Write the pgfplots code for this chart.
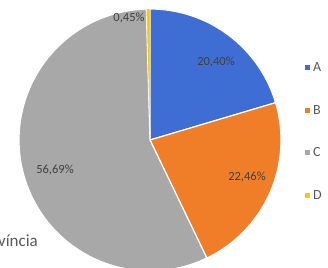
\documentclass[border=0pt]{standalone}
\usepackage{pgfplots}
\pgfplotsset{compat=1.18}
\usepackage{pgfplotstable}
\usepackage{fontspec}
\setmainfont{Carlito}
\definecolor{cA}{RGB}{62,110,212}
\definecolor{cB}{RGB}{240,125,40}
\definecolor{cC}{RGB}{168,168,168}
\definecolor{cD}{RGB}{255,200,0}
\definecolor{labgray}{RGB}{64,64,64}
\definecolor{titgray}{RGB}{89,89,89}
\pgfplotstableread{
label value
A 20.40
B 22.46
C 56.69
D 0.45
}\piedata
\begin{document}
\begin{tikzpicture}
\pgfplotstablegetelem{0}{value}\of\piedata \let\vA\pgfplotsretval
\pgfplotstablegetelem{1}{value}\of\piedata \let\vB\pgfplotsretval
\pgfplotstablegetelem{2}{value}\of\piedata \let\vC\pgfplotsretval
\pgfplotstablegetelem{3}{value}\of\piedata \let\vD\pgfplotsretval
\pgfmathsetmacro\aA{90-3.6*\vA}
\pgfmathsetmacro\aB{\aA-3.6*\vB}
\pgfmathsetmacro\aC{\aB-3.6*\vC}
\pgfmathsetmacro\aD{\aC-3.6*\vD}
\useasboundingbox (0,0) rectangle (328bp,268bp);
\begin{axis}[at={(0,0)}, anchor=south west, x=1bp, y=1bp, y dir=reverse,
  xmin=0, xmax=328, ymin=0, ymax=268, hide axis, clip=false]
\fill[cA, draw=white, line width=1.2bp] (axis cs:150,140) -- ++(90:131bp) arc[start angle=90, end angle=\aA, radius=131bp] -- cycle;
\fill[cB, draw=white, line width=1.2bp] (axis cs:150,140) -- ++(\aA:131bp) arc[start angle=\aA, end angle=\aB, radius=131bp] -- cycle;
\fill[cC, draw=white, line width=1.2bp] (axis cs:150,140) -- ++(\aB:131bp) arc[start angle=\aB, end angle=\aC, radius=131bp] -- cycle;
\fill[cD, draw=white, line width=0.4bp] (axis cs:150,140) -- ++(\aC:131bp) arc[start angle=\aC, end angle=\aD, radius=131bp] -- cycle;
\node[font=\fontsize{12.5bp}{14bp}\selectfont, text=labgray] at (axis cs:216,62) {20,40\%};
\node[font=\fontsize{12.5bp}{14bp}\selectfont, text=labgray] at (axis cs:247,177) {22,46\%};
\node[font=\fontsize{12.5bp}{14bp}\selectfont, text=labgray] at (axis cs:55,170) {56,69\%};
\node[font=\fontsize{12.5bp}{14bp}\selectfont, text=labgray] at (axis cs:129,18) {0,45\%};
\node[font=\fontsize{17bp}{19bp}\selectfont, text=titgray, anchor=base east, inner sep=0pt] at (axis cs:38,246) {Província};
\fill[cA] (axis cs:305,65) rectangle (axis cs:310,70);
\fill[cB] (axis cs:305,108) rectangle (axis cs:310,113);
\fill[cC] (axis cs:305,150) rectangle (axis cs:310,155);
\fill[cD] (axis cs:305,193) rectangle (axis cs:310,198);
\node[font=\fontsize{14bp}{16bp}\selectfont, text=titgray, anchor=west, inner sep=0pt] at (axis cs:313,67.5) {A};
\node[font=\fontsize{14bp}{16bp}\selectfont, text=titgray, anchor=west, inner sep=0pt] at (axis cs:313,110.5) {B};
\node[font=\fontsize{14bp}{16bp}\selectfont, text=titgray, anchor=west, inner sep=0pt] at (axis cs:313,152.5) {C};
\node[font=\fontsize{14bp}{16bp}\selectfont, text=titgray, anchor=west, inner sep=0pt] at (axis cs:313,195.5) {D};
\end{axis}
\end{tikzpicture}
\end{document}
